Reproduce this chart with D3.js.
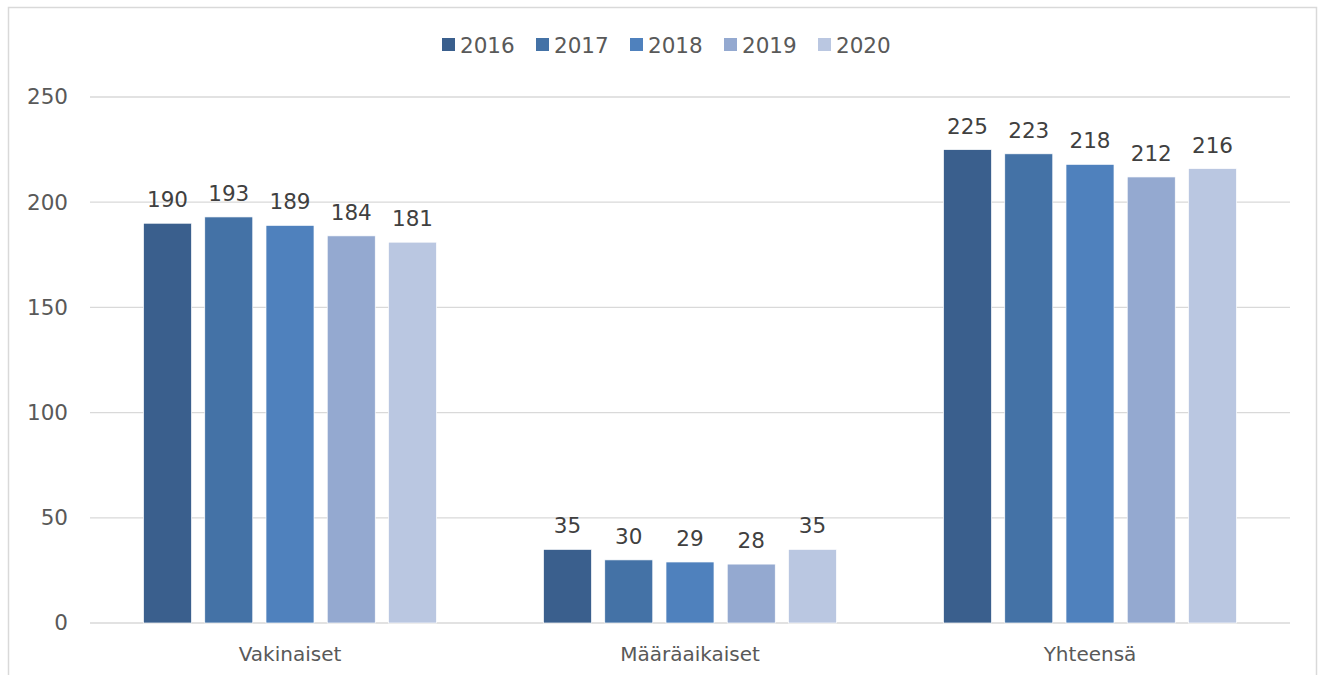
<!DOCTYPE html>
<html><head><meta charset="utf-8">
<script src="https://cdn.jsdelivr.net/npm/d3@7"></script>
<style>body{margin:0;background:#fff;}svg{display:block;font-family:"DejaVu Sans",sans-serif;}svg text{font-family:"DejaVu Sans",sans-serif;}</style>
</head><body>
<svg id="c" width="1319" height="675"></svg>
<script>
const categories = ["Vakinaiset", "Määräaikaiset", "Yhteensä"];
const years = ["2016", "2017", "2018", "2019", "2020"];
const values = {
  "2016": [190, 35, 225],
  "2017": [193, 30, 223],
  "2018": [189, 29, 218],
  "2019": [184, 28, 212],
  "2020": [181, 35, 216]
};
const colors = ["#3A5F8D", "#4472A6", "#4F81BD", "#94A9D0", "#BAC7E1"];
const yTicks = [0, 50, 100, 150, 200, 250];

(function () {
const FONT = '"DejaVu Sans", sans-serif';
const svg = d3.select("#c");
svg.append("rect").attr("x", 8.5).attr("y", 7.5).attr("width", 1308).attr("height", 680)
  .attr("fill", "none").attr("stroke", "#d9d9d9").attr("stroke-width", 1.5);

const pLeft = 90, pRight = 1290, pTop = 97, pBottom = 623;
const y = d3.scaleLinear().domain([0, 250]).range([pBottom, pTop]);
const x0 = d3.scaleBand().domain(categories).range([pLeft, pRight]).padding(0);
const x1 = d3.scaleBand().domain(years).range([53.5, 346.5]).paddingInner(0.216).paddingOuter(0);
const color = d3.scaleOrdinal().domain(years).range(colors);

// gridlines
svg.append("g").selectAll("line").data(yTicks).join("line")
  .attr("x1", pLeft).attr("x2", pRight)
  .attr("y1", d => y(d)).attr("y2", d => y(d))
  .attr("stroke", "#d9d9d9").attr("stroke-width", 1.3);

// y axis labels
const yAxis = d3.axisLeft(y).tickValues(yTicks).tickSize(0).tickPadding(0);
const ya = svg.append("g").attr("transform", `translate(68,0)`).call(yAxis);
ya.attr("font-family", null).attr("font-size", null);
ya.select(".domain").remove();
ya.selectAll("text").attr("fill", "#595959").style("font-size", "21.5px").style("font-family", FONT);

// x axis labels
const xAxis = d3.axisBottom(x0).tickSize(0).tickPadding(0);
const xa = svg.append("g").attr("transform", `translate(0,${pBottom})`).call(xAxis);
xa.attr("font-family", null).attr("font-size", null);
xa.select(".domain").remove();
xa.selectAll("text").attr("dy", null).attr("y", 38).attr("fill", "#595959").style("font-size", "20px").style("font-family", FONT);

// bars
const groups = svg.append("g").selectAll("g").data(categories).join("g")
  .attr("transform", d => `translate(${x0(d)},0)`);
groups.selectAll("rect").data((c, i) => years.map(yr => ({yr, v: values[yr][i]}))).join("rect")
  .attr("x", d => x1(d.yr)).attr("width", x1.bandwidth())
  .attr("y", d => y(d.v)).attr("height", d => pBottom - y(d.v))
  .attr("fill", d => color(d.yr)).attr("stroke", "#fff").attr("stroke-width", 0.7);
groups.selectAll("text").data((c, i) => years.map(yr => ({yr, v: values[yr][i]}))).join("text")
  .attr("x", d => x1(d.yr) + x1.bandwidth() / 2).attr("y", d => y(d.v) - 16)
  .attr("text-anchor", "middle").attr("fill", "#404040").style("font-size", "21.5px")
  .text(d => d.v);

// legend
const lg = svg.append("g").selectAll("g").data(years).join("g")
  .attr("transform", (d, i) => `translate(${442 + i * 94},0)`);
lg.append("rect").attr("x", 0).attr("y", 38).attr("width", 13).attr("height", 13).attr("fill", d => color(d));
lg.append("text").attr("x", 18).attr("y", 53).attr("fill", "#595959").style("font-size", "21.5px").text(d => d);
})();
</script>
</body></html>
